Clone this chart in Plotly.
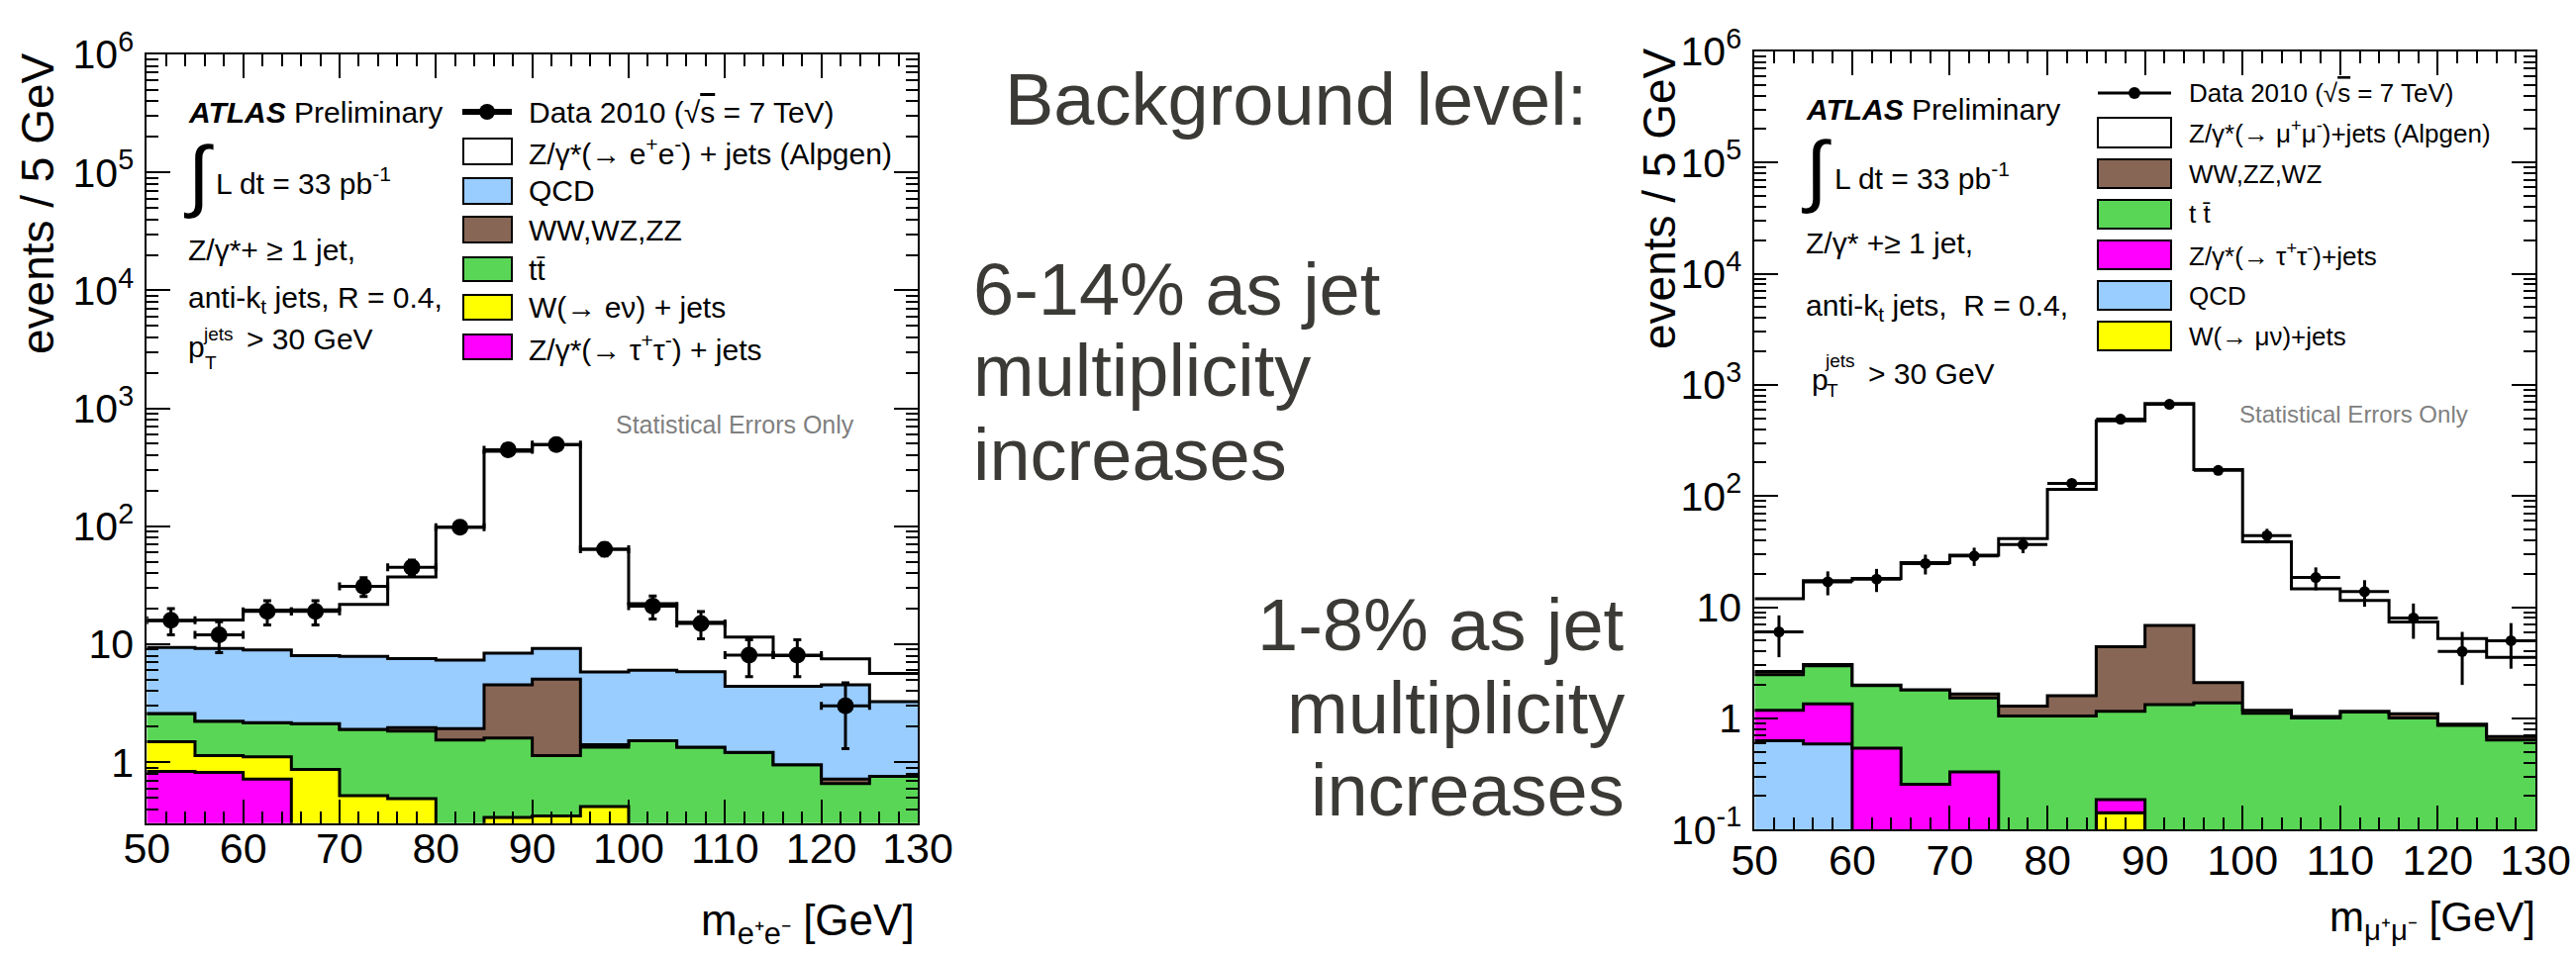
import plotly.graph_objects as go

W, H = 2602, 964

def X(px):
    return px / W

def Y(py):
    return 1 - py / H

# ---------------- data ----------------
bin_edges = [50, 55, 60, 65, 70, 75, 80, 85, 90, 95, 100, 105, 110, 115, 120, 125, 130]
bin_centers = [52.5, 57.5, 62.5, 67.5, 72.5, 77.5, 82.5, 87.5, 92.5, 97.5,
               102.5, 107.5, 112.5, 117.5, 122.5, 127.5]

# electron channel, stacked bottom-up
ee_ztautau = [0.835, 0.82, 0.72, 0, 0, 0, 0, 0, 0, 0, 0, 0, 0, 0, 0, 0]
ee_wenu = [0.655, 0.32, 0.39, 0.87, 0.52, 0.49, 0, 0.34, 0.35, 0.42, 0, 0, 0, 0, 0, 0]
ee_ttbar = [1.10, 1.09, 1.05, 1.25, 1.38, 1.35, 1.54, 1.26, 0.79, 0.92, 1.52, 1.34, 1.21, 0.95, 0.66, 0.76]
ee_diboson = [0, 0, 0, 0, 0, 0.12, 0.39, 2.92, 3.91, 0.07, 0, 0, 0, 0, 0.06, 0]
ee_qcd = [6.8, 7.0, 6.8, 5.9, 6.0, 5.6, 5.4, 3.9, 4.15, 4.4, 4.5, 4.5, 3.2, 3.45, 3.8, 2.5]
ee_zee = [6.4, 6.8, 10.5, 11.5, 13.9, 29.6, 90.7, 424.6, 482.8, 58.2, 16.1, 9.5, 7.1, 3.6, 3.0, 2.4]
ee_data = [16, 12, 19, 19, 31, 45, 98, 446, 492, 64, 21, 15, 8.1, 8.1, 3.0, None]
ee_err = [4.0, 3.5, 4.4, 4.4, 5.6, 6.7, 9.9, 21, 22, 8.0, 4.6, 3.9, 2.8, 2.8, 1.7, None]

# muon channel, stacked bottom-up
mm_wmunu = [0, 0, 0, 0, 0, 0, 0, 0.142, 0, 0, 0, 0, 0, 0, 0, 0]
mm_qcd = [0.63, 0.59, 0, 0, 0, 0, 0, 0, 0, 0, 0, 0, 0, 0, 0, 0]
mm_ztautau = [0.55, 0.76, 0.54, 0.255, 0.33, 0, 0, 0.044, 0, 0, 0, 0, 0, 0, 0, 0]
mm_ttbar = [1.29, 1.62, 1.43, 1.555, 1.20, 1.05, 1.05, 0.974, 1.33, 1.38, 1.11, 1.01, 1.14, 1.01, 0.867, 0.641]
mm_diboson = [0.17, 0.08, 0.02, 0.0, 0.13, 0.24, 0.55, 3.25, 5.54, 0.72, 0.07, 0.03, 0.02, 0.09, 0.02, 0.046]
mm_zmumu = [9.26, 14.25, 16.2, 23.4, 27.7, 40.1, 113.4, 470.6, 671, 170.9, 37.5, 13.56, 10.34, 6.25, 4.33, 2.85]
mm_data = [6.0, 16.9, 17.9, 24.7, 28.9, 36.6, 130, 491, 668, 170, 44.1, 18.5, 13.8, 8.0, 4.0, 5.0]
mm_err = [2.45, 4.1, 4.2, 5.0, 5.4, 6.0, 11.4, 22, 26, 13, 6.6, 4.3, 3.7, 2.8, 2.0, 2.2]

y_tickvals = [0.1, 1, 10, 100, 1e3, 1e4, 1e5, 1e6]
y_ticktext = ["10<sup>-1</sup>", "1", "10", "10<sup>2</sup>", "10<sup>3</sup>",
              "10<sup>4</sup>", "10<sup>5</sup>", "10<sup>6</sup>"]

C_QCD = "#99ccff"
C_VV = "#886655"
C_TT = "#5ad656"
C_W = "#ffff00"
C_TAU = "#ff00ff"
C_Z = "#ffffff"

FONT = "Liberation Sans, Arial, Helvetica, sans-serif"
MID = "#3b3a36"

fig = go.Figure()

FLOOR = 1e-3


def add_stack(components, colors, xa, ya):
    fig.add_trace(go.Scatter(x=bin_edges, y=[FLOOR] * len(bin_edges), mode="lines",
                             line=dict(width=0, shape="hv"), xaxis=xa, yaxis=ya,
                             hoverinfo="skip", showlegend=False))
    cum = [0.0] * len(bin_centers)
    for comp, col in zip(components, colors):
        cum = [c + v for c, v in zip(cum, comp)]
        yv = [max(c, FLOOR) for c in cum]
        yv = yv + [yv[-1]]
        fig.add_trace(go.Scatter(x=bin_edges, y=yv, mode="lines",
                                 line=dict(color="black", width=3, shape="hv"),
                                 fill="tonexty", fillcolor=col,
                                 xaxis=xa, yaxis=ya, showlegend=False, hoverinfo="skip"))


def add_data(vals, errs, xa, ya, msize, cap):
    fig.add_trace(go.Scatter(x=bin_centers, y=vals, mode="markers",
                             marker=dict(color="black", size=msize, symbol="circle"),
                             error_y=dict(type="data", array=errs, color="black", thickness=3, width=cap),
                             error_x=dict(type="constant", value=2.5, color="black", thickness=3, width=cap),
                             xaxis=xa, yaxis=ya, showlegend=False))


add_stack([ee_ztautau, ee_wenu, ee_ttbar, ee_diboson, ee_qcd, ee_zee],
          [C_TAU, C_W, C_TT, C_VV, C_QCD, C_Z], "x", "y")
add_data(ee_data, ee_err, "x", "y", 17, 4)

add_stack([mm_wmunu, mm_qcd, mm_ztautau, mm_ttbar, mm_diboson, mm_zmumu],
          [C_W, C_QCD, C_TAU, C_TT, C_VV, C_Z], "x2", "y2")
add_data(mm_data, mm_err, "x2", "y2", 11, 0)


def xaxis_cfg(domain, anchor, fsize, standoff):
    return dict(domain=domain, anchor=anchor, range=[50, 130], showline=True, linecolor="black",
                linewidth=2, mirror="allticks", ticks="inside", ticklen=24, tickwidth=2,
                tickcolor="black", tick0=50, dtick=10, showgrid=False, zeroline=False,
                automargin=False,
                tickfont=dict(family=FONT, size=fsize, color="black"),
                ticklabelstandoff=standoff,
                minor=dict(dtick=2, tick0=50, ticks="inside", ticklen=12, tickwidth=2,
                           tickcolor="black", showgrid=False))


def yaxis_cfg(domain, anchor, rng, fsize, standoff):
    return dict(domain=domain, anchor=anchor, type="log", range=rng, showline=True,
                linecolor="black", linewidth=2, mirror="allticks", ticks="inside", ticklen=24,
                tickwidth=2, tickcolor="black", tickmode="array", tickvals=y_tickvals,
                ticktext=y_ticktext, showgrid=False, zeroline=False, automargin=False,
                tickfont=dict(family=FONT, size=fsize, color="black"),
                ticklabelstandoff=standoff,
                minor=dict(dtick="D1", ticks="inside", ticklen=12, tickwidth=2,
                           tickcolor="black", showgrid=False))


annotations = []
shapes = []


def txt(x, y, text, size, xanchor="left", color="black", family=FONT, angle=0):
    annotations.append(dict(x=X(x), y=Y(y), xref="paper", yref="paper", text=text,
                            showarrow=False, xanchor=xanchor, yanchor="middle",
                            textangle=angle, font=dict(family=family, size=size, color=color)))


def box(x0, x1, y0, y1, col):
    shapes.append(dict(type="rect", xref="paper", yref="paper", x0=X(x0), x1=X(x1),
                       y0=Y(y1), y1=Y(y0), fillcolor=col, line=dict(color="black", width=2)))


def data_key(x0, x1, y, lw, r):
    shapes.append(dict(type="line", xref="paper", yref="paper", x0=X(x0), x1=X(x1),
                       y0=Y(y), y1=Y(y), line=dict(color="black", width=lw)))
    xc = (x0 + x1) / 2
    shapes.append(dict(type="circle", xref="paper", yref="paper", x0=X(xc - r), x1=X(xc + r),
                       y0=Y(y + r), y1=Y(y - r), fillcolor="black", line=dict(color="black", width=0)))


# ----- left panel texts -----
txt(188, 113, "<b><i>ATLAS</i></b> Preliminary", 30)
txt(183, 176, "∫", 80)
txt(216, 183, "L dt = 33 pb<sup>-1</sup>", 30)
txt(188, 253, "Z/γ*+ ≥ 1 jet,", 30)
txt(188, 302, "anti-k<sub>t</sub> jets, R = 0.4,", 30)
txt(188, 350, "p", 30)
txt(203, 337, "jets", 19)
txt(205, 366, "T", 19)
txt(247, 342, "> 30 GeV", 30)

data_key(467, 517, 113, 6, 8)
txt(532, 113, "Data 2010 (√<span style='text-decoration:overline'>s</span> = 7 TeV)", 30)
left_keys = [(140, 166, C_Z, "Z/γ*(→ e<sup>+</sup>e<sup>-</sup>) + jets (Alpgen)"),
             (180, 206, C_QCD, "QCD"),
             (219, 245, C_VV, "WW,WZ,ZZ"),
             (260, 284, C_TT, "tt\u0304"),
             (298, 323, C_W, "W(→ eν) + jets"),
             (338, 363, C_TAU, "Z/γ*(→ τ<sup>+</sup>τ<sup>-</sup>) + jets")]
for y0, y1, col, lab in left_keys:
    box(468, 517, y0, y1, col)
    txt(532, (y0 + y1) / 2, lab, 30)

txt(742, 429, "Statistical Errors Only", 25, xanchor="center", color="#7f7f7f")
txt(38, 206, "events / 5 GeV", 46, xanchor="center", angle=-90)
txt(926, 933, "m<sub>e⁺e⁻</sub> [GeV]", 44, xanchor="right")

# ----- right panel texts -----
txt(1822, 110, "<b><i>ATLAS</i></b> Preliminary", 30)
txt(1817, 171, "∫", 80)
txt(1851, 178, "L dt = 33 pb<sup>-1</sup>", 30)
txt(1822, 245, "Z/γ* +≥ 1 jet,", 30)
txt(1822, 311, "anti-k<sub>t</sub> jets,  R = 0.4,", 30)
txt(1828, 384, "p", 30)
txt(1841, 364, "jets", 19)
txt(1843, 394, "T", 19)
txt(1885, 378, "> 30 GeV", 30)

data_key(2119, 2193, 94, 3, 6)
txt(2209, 94, "Data 2010 (√<span style='text-decoration:overline'>s</span> = 7 TeV)", 26)
right_keys = [(119, 149, C_Z, "Z/γ*(→ μ<sup>+</sup>μ<sup>-</sup>)+jets (Alpgen)"),
              (161, 190, C_VV, "WW,ZZ,WZ"),
              (202, 231, C_TT, "t t\u0304"),
              (243, 272, C_TAU, "Z/γ*(→ τ<sup>+</sup>τ<sup>-</sup>)+jets"),
              (284, 313, C_QCD, "QCD"),
              (325, 354, C_W, "W(→ μν)+jets")]
for y0, y1, col, lab in right_keys:
    box(2119, 2193, y0, y1, col)
    txt(2209, (y0 + y1) / 2, lab, 26)

txt(2377, 418, "Statistical Errors Only", 24, xanchor="center", color="#7f7f7f")
txt(1676, 201, "events / 5 GeV", 46, xanchor="center", angle=-90)
txt(2563, 929, "m<sub>μ⁺μ⁻</sub> [GeV]", 42, xanchor="right")

# ----- middle slide text -----
txt(1013, 101, "Background level:", 74, color=MID)
txt(981, 292, "6-14% as jet", 74, color=MID)
txt(981, 375, "multiplicity", 74, color=MID)
txt(981, 459, "increases", 74, color=MID)
txt(1643, 631, "1-8% as jet", 74, xanchor="right", color=MID)
txt(1643, 715, "multiplicity", 74, xanchor="right", color=MID)
txt(1643, 798, "increases", 74, xanchor="right", color=MID)

fig.update_layout(
    width=W, height=H, margin=dict(l=0, r=0, t=0, b=0, pad=0, autoexpand=False),
    paper_bgcolor="white", plot_bgcolor="white", showlegend=False,
    xaxis=xaxis_cfg([X(148.3), X(927)], "y", 43, -13),
    yaxis=yaxis_cfg([Y(831.7), Y(55)], "x", [-0.516, 6.0], 41, 3),
    xaxis2=xaxis_cfg([X(1772.3), X(2561)], "y2", 43, -8),
    yaxis2=yaxis_cfg([Y(838.3), Y(51.8)], "x2", [-1.0, 6.0], 41, 3),
    annotations=annotations, shapes=shapes,
)

fig.write_html("out.html")
